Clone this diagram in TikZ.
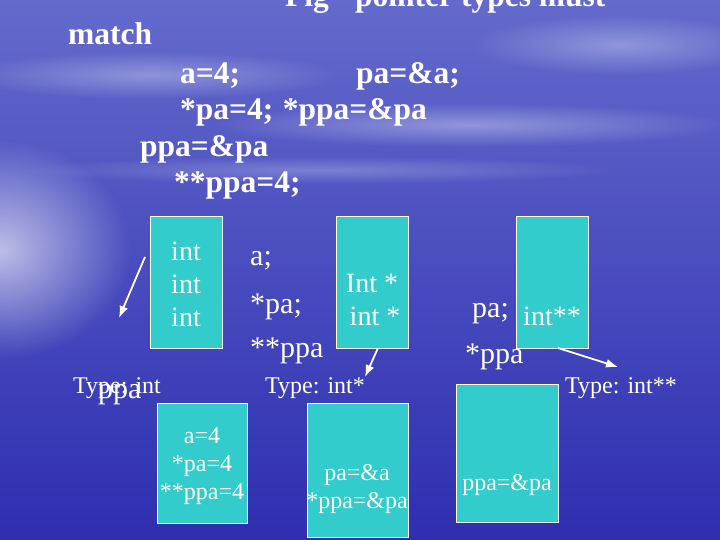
\documentclass[tikz,border=0pt]{standalone}
\usepackage{fontspec}
\setmainfont{Liberation Serif}
\usepackage{tikz}
\usetikzlibrary{arrows}
\usetikzlibrary{arrows.meta}
\usetikzlibrary{fadings}
\usepackage{xcolor}
\definecolor{skytop}{RGB}{100,106,204}
\definecolor{skymid}{RGB}{68,70,190}
\definecolor{seabot}{RGB}{46,46,176}
\definecolor{cellfill}{RGB}{51,204,204}
\tikzfading[name=glowfade, inner color=transparent!30, outer color=transparent!100]

\begin{document}
\begin{tikzpicture}[x=1pt,y=-1pt,
  cell/.style={draw=white, fill=cellfill, line width=0.8pt, anchor=north west, inner sep=0pt},
  codeline/.style={text=white, inner sep=0pt, anchor=base west, font=\fontsize{31.5}{34}\selectfont\bfseries},
  decl/.style={text=white, inner sep=0pt, anchor=base west, font=\fontsize{30}{33}\selectfont},
  intxt/.style={text=white, inner sep=0pt, anchor=base, font=\fontsize{28}{30}\selectfont},
  celltxt/.style={text=white, inner sep=0pt, anchor=base, font=\fontsize{24}{26}\selectfont},
  typelbl/.style={text=white, inner sep=0pt, anchor=base west, font=\fontsize{24}{26}\selectfont},
  haze/.style={white, path fading=glowfade},
  ptr/.style={white, line width=1.8pt, -{Latex[length=12pt,width=9pt]}}]
\useasboundingbox (0,0) rectangle (720,540);
\clip (0,0) rectangle (720,540);
%background
\shade[top color=skytop, middle color=skymid, bottom color=seabot] (0,0) rectangle (720,540);
\fill[haze, opacity=0.9] (0,250) ellipse (130pt and 110pt);
\fill[haze, opacity=0.5] (470,125) ellipse (260pt and 22pt);
\fill[haze, opacity=0.45] (150,75) ellipse (190pt and 24pt);
\fill[haze, opacity=0.45] (620,45) ellipse (150pt and 30pt);
\fill[haze, opacity=0.35] (320,170) ellipse (300pt and 14pt);

%code lines
\node[codeline] (title) at (285,7) {Fig - pointer types must};
\node[codeline] (match) at (68,45) {match};
\node[codeline] (seta) at (180,84) {a=4;};
\node[codeline] (setpa) at (356,84) {pa=\&a;};
\node[codeline] (derefs) at (180,120) {*pa=4;\hspace{0.3em}*ppa=\&pa};
\node[codeline] (setppa) at (140,157) {ppa=\&pa};
\node[codeline] (derefpp) at (174,193) {**ppa=4;};

%type cells
\node[cell, minimum width=72pt, minimum height=132pt] (intcell) at (150,216) {};
\node[cell, minimum width=72pt, minimum height=132pt] (ptrcell) at (336,216) {};
\node[cell, minimum width=72pt, minimum height=132pt] (ppcell) at (516,216) {};
\node[intxt] (int1) at (186,260) {int};
\node[intxt] (int2) at (186,293) {int};
\node[intxt] (int3) at (186,326) {int};
\node[intxt] (ptr1) at (372,292) {Int *};
\node[intxt] (ptr2) at (375,325) {int *};
\node[intxt] (pp1) at (552,325) {int**};

%declarations
\node[decl] (da) at (250,265) {a;};
\node[decl] (dpa) at (250,313) {*pa;};
\node[decl] (dppa) at (250,357) {**ppa};
\node[decl] (dpa2) at (472,317) {pa;};
\node[decl] (dppa2) at (465,363) {*ppa};

%type labels
\node[typelbl] (tint) at (73,393) {Type: int};
\node[decl] (lppa) at (98,398) {ppa};
\node[typelbl] (tptr) at (265,393) {Type: int*};
\node[typelbl] (tpp) at (565,393) {Type: int**};

%value cells
\node[cell, minimum width=90pt, minimum height=120pt] (valcell) at (157,403) {};
\node[cell, minimum width=101pt, minimum height=134pt] (adrcell) at (307,403) {};
\node[cell, minimum width=102pt, minimum height=138pt] (ppacell) at (456,384) {};
\node[celltxt] (v1) at (202,443) {a=4};
\node[celltxt] (v2) at (202,471) {*pa=4};
\node[celltxt] (v3) at (202,499) {**ppa=4};
\node[celltxt] (w1) at (357,480) {pa=\&a};
\node[celltxt] (w2) at (357,508) {*ppa=\&pa};
\node[celltxt] (u1) at (507,490) {ppa=\&pa};

%arrows
\coordinate (a1s) at (145,257);
\coordinate (a1e) at (119,318);
\coordinate (a2s) at (378,348);
\coordinate (a2e) at (365,377);
\coordinate (a3s) at (558,348);
\coordinate (a3e) at (618,367);
\draw[ptr] (a1s) -- (a1e);
\draw[ptr] (a2s) -- (a2e);
\draw[ptr] (a3s) -- (a3e);
\end{tikzpicture}
\end{document}
